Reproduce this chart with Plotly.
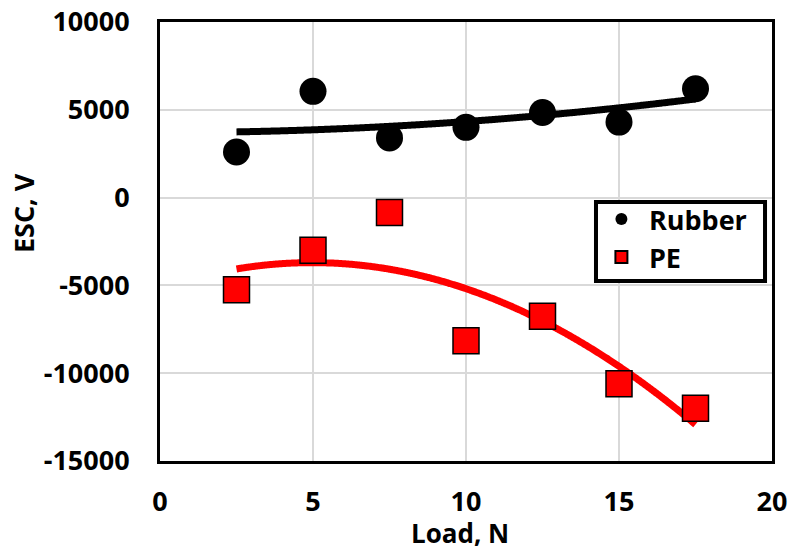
import numpy as np
import plotly.graph_objects as go

load = [2.5, 5, 7.5, 10, 12.5, 15, 17.5]
rubber = [2600, 6050, 3400, 4000, 4850, 4300, 6200]
pe = [-5250, -3000, -850, -8150, -6750, -10600, -12000]

x_ticks = [0, 5, 10, 15, 20]
y_ticks = [-15000, -10000, -5000, 0, 5000, 10000]

# 2nd-order polynomial trendlines fitted to the data (as in the original)
xs = np.linspace(min(load), max(load), 300)
rub_fit = np.polyval(np.polyfit(load, rubber, 2), xs)
pe_fit = np.polyval(np.polyfit(load, pe, 2), xs)

FONT = "Open Sans"
FS = 27
bold = dict(family=FONT, size=FS, color="black", weight="bold")

fig = go.Figure()
fig.add_trace(go.Scatter(x=xs, y=rub_fit, mode="lines", line=dict(color="black", width=7, shape="spline"),
                         showlegend=False, hoverinfo="skip"))
fig.add_trace(go.Scatter(x=xs, y=pe_fit, mode="lines", line=dict(color="#ff0000", width=7, shape="spline"),
                         showlegend=False, hoverinfo="skip"))
fig.add_trace(go.Scatter(x=load, y=rubber, mode="markers", name="Rubber",
                         marker=dict(symbol="circle", size=27, color="black")))
fig.add_trace(go.Scatter(x=load, y=pe, mode="markers", name="PE",
                         marker=dict(symbol="square", size=26, color="#ff0000",
                                     line=dict(color="black", width=1.5))))

axis_common = dict(
    showline=True, linecolor="black", linewidth=3, mirror=True,
    showgrid=True, gridcolor="#d9d9d9", gridwidth=1.5,
    zeroline=False, ticks="", automargin=False,
    tickfont=bold,
)

fig.update_xaxes(range=[0, 20], tickvals=x_ticks, ticktext=[str(v) for v in x_ticks],
                 ticklabelstandoff=15, **axis_common)
fig.update_yaxes(range=[-15000, 10000], tickvals=y_ticks, ticktext=[str(v) for v in y_ticks],
                 ticklabelstandoff=22, **axis_common)

fig.add_annotation(text="Load, N", xref="paper", yref="paper", x=0.49, y=-0.164,
                   xanchor="center", yanchor="middle", showarrow=False,
                   font=dict(family=FONT, size=26, color="black", weight="bold"))
fig.add_annotation(text="ESC, V", xref="paper", yref="paper", x=-0.222, y=0.565,
                   xanchor="center", yanchor="middle", textangle=-90, showarrow=False, font=bold)

# legend frame
fig.add_shape(type="rect", xref="paper", yref="paper", x0=0.7124, x1=0.9886, y0=0.41, y1=0.59,
              line=dict(color="black", width=4), fillcolor="white", layer="above")

fig.update_layout(
    width=792, height=550,
    margin=dict(l=160, r=20, t=22, b=89),
    plot_bgcolor="white", paper_bgcolor="white",
    legend=dict(x=0.709, y=0.606, xanchor="left", yanchor="top",
                bgcolor="rgba(0,0,0,0)", borderwidth=0,
                font=bold, itemsizing="constant", tracegroupgap=0, itemwidth=45),
    showlegend=True,
)

fig.write_html("out.html", config={"displayModeBar": False},
               post_script="document.body.style.margin='0';")
